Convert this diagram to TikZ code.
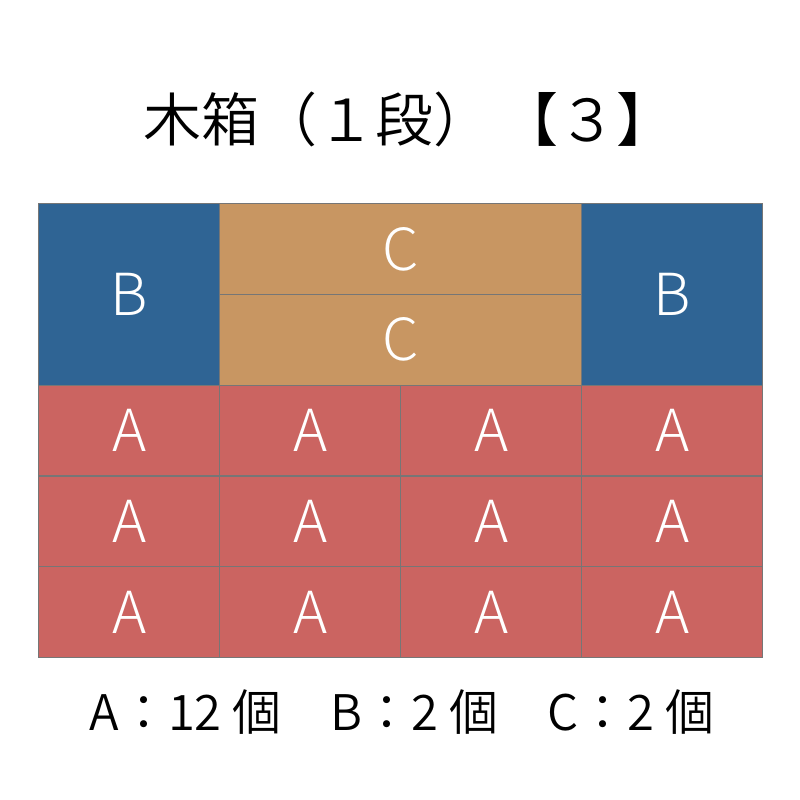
\documentclass[tikz,border=0pt]{standalone}
\usepackage{fontspec}
\setmainfont{Noto Sans CJK JP}[UprightFont=* DemiLight]
\newfontfamily\lightjp{Noto Sans CJK JP}[UprightFont=* Light]
\usetikzlibrary{positioning}

\definecolor{boxA}{HTML}{CB6461}
\definecolor{boxB}{HTML}{2F6494}
\definecolor{boxC}{HTML}{C89662}
\definecolor{edge}{HTML}{767676}

\tikzset{
  cell/.style={draw=edge, line width=1.2pt, rectangle, inner sep=0pt, anchor=north west,
    text=white, font=\lightjp\fontsize{58}{58}\selectfont},
  cellA/.style={cell, fill=boxA, minimum width=181pt, minimum height=90.8pt},
  cellB/.style={cell, fill=boxB, minimum width=181pt, minimum height=181.6pt},
  cellC/.style={cell, fill=boxC, minimum width=362pt, minimum height=90.8pt}
}

\begin{document}
\begin{tikzpicture}[x=1pt, y=-1pt]
\useasboundingbox (0,0) rectangle (800,800);

% Title
\node[font=\fontsize{58}{58}\selectfont] (title) at (409,119) {木箱（１段）\hspace{10pt}【３】};

% Top part
\node[cellB] (bl) at (38,203) {B};
\node[cellC] (ct) at (219,203) {C};
\node[cellC] (cb) at (219,293.8) {C};
\node[cellB] (br) at (581,203) {B};

% Rows of A
\foreach \y in {0,1,2}
  \foreach \x in {0,...,3}
    \node[cellA] (a\y\x) at (38+181*\x,384.6+90.8*\y) {A};

% Count
\node[font=\fontsize{49}{49}\selectfont] (count) at (402,712) {A：12 個　B：2 個　C：2 個};
\end{tikzpicture}
\end{document}
